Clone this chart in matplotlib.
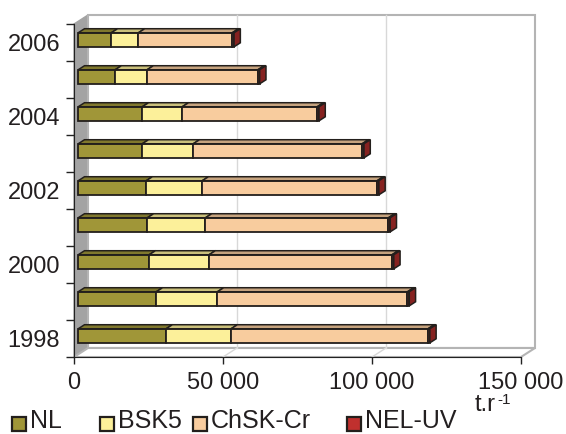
import numpy as np
import matplotlib
matplotlib.use('Agg')
import matplotlib.pyplot as plt
from matplotlib.patches import Polygon, Rectangle
from matplotlib.colors import to_rgb

# data (t per year)
years = [1998, 1999, 2000, 2001, 2002, 2003, 2004, 2005, 2006]
nl = [29500, 26200, 23800, 23200, 22800, 21500, 21500, 12400, 11100]
bsk5 = [21800, 20500, 20100, 19500, 18800, 17100, 13400, 10700, 9100]
chsk = [66100, 63800, 61400, 61400, 58700, 56700, 45300, 37200, 31500]
neluv = [600, 600, 600, 600, 600, 600, 600, 600, 600]
names = ['NL', 'BSK5', 'ChSK-Cr', 'NEL-UV']
colors = ['#A09638', '#FCF09A', '#F8CC9E', '#C0302E']
xticks = [0, 50000, 100000, 150000]
xticklabels = ['0', '50 000', '100 000', '150 000']

plt.rcParams['font.family'] = ['Liberation Sans', 'DejaVu Sans']
fs = 17

def darker(c, f):
    return tuple(v * f for v in to_rgb(c))

fig = plt.figure(figsize=(5.66, 4.34), dpi=100)
ax = fig.add_axes([74/566, 77/434, 447/566, 333/434])
xmax = 150000
n = len(years)
ax.set_xlim(0, xmax)
ax.set_ylim(-0.5, n - 0.5)
DX = 14/447*xmax   # depth shift in x
DY = 9/37          # depth shift in y
y0, y1 = -0.5, n - 0.5

# walls and floor
ax.add_patch(Polygon([(0, y0), (DX, y0+DY), (DX, y1+DY), (0, y1)], closed=True,
                     facecolor='#A3A3A3', edgecolor='#A3A3A3', lw=1, clip_on=False, zorder=0))
ax.add_patch(Polygon([(DX, y0+DY), (xmax+DX, y0+DY), (xmax+DX, y1+DY), (DX, y1+DY)], closed=True,
                     facecolor='white', edgecolor='#B4B4B4', lw=1.5, clip_on=False, zorder=0))
ax.add_patch(Polygon([(0, y0), (xmax, y0), (xmax+DX, y0+DY), (DX, y0+DY)], closed=True,
                     facecolor='white', edgecolor='#B4B4B4', lw=1.5, clip_on=False, zorder=0.5))
for xv in xticks[1:-1]:
    ax.plot([xv+DX, xv+DX], [y0+DY, y1+DY], color='#D8D8D8', lw=1, clip_on=False, zorder=1)
    ax.plot([xv, xv+DX], [y0, y0+DY], color='#D8D8D8', lw=1, clip_on=False, zorder=1)

# bars
data = np.array([nl, bsk5, chsk, neluv], dtype=float)
bx, by = 0.3*DX, 0.3*DY
h = 0.38
dd = 0.45
ypos = np.arange(n)
left = np.zeros(n)
ec = '#231F1C'
for k in range(len(names)):
    ax.barh(ypos + by, data[k], left=left + bx, height=h, color=colors[k],
            edgecolor=ec, linewidth=1.3, zorder=3)
    for i in ypos:
        xa = left[i] + bx
        xb = xa + data[k][i]
        yt = i + by + h/2
        ax.add_patch(Polygon([(xa, yt), (xb, yt), (xb+dd*DX, yt+dd*DY), (xa+dd*DX, yt+dd*DY)],
                             closed=True, facecolor=darker(colors[k], 0.8), edgecolor=ec,
                             lw=1.1, zorder=3, clip_on=False))
    left += data[k]
for i in ypos:
    xb = left[i] + bx
    yb = i + by - h/2
    yt = yb + h
    ax.add_patch(Polygon([(xb, yb), (xb+dd*DX, yb+dd*DY), (xb+dd*DX, yt+dd*DY), (xb, yt)],
                         closed=True, facecolor=darker(colors[3], 0.7), edgecolor=ec,
                         lw=1.1, zorder=3, clip_on=False))

# axes
for s in ['top', 'right']:
    ax.spines[s].set_visible(False)
ax.spines['left'].set_color('#222222')
ax.spines['bottom'].set_color('#222222')
ax.spines['left'].set_zorder(2)
ax.spines['bottom'].set_zorder(2)
ax.patch.set_alpha(0)
ax.set_xticks(xticks)
ax.set_xticklabels(xticklabels, fontsize=fs, color='#231F20')
ax.tick_params(axis='x', length=5, width=1, pad=6, color='#222222')
ax.set_yticks(np.arange(n + 1) - 0.5)
ax.set_yticklabels([])
ax.tick_params(axis='y', which='major', length=6, width=1, color='#222222')
ax.set_yticks(ypos[::2], minor=True)
ax.set_yticklabels([str(y) for y in years[::2]], minor=True, fontsize=fs, color='#231F20')
ax.tick_params(axis='y', which='minor', length=0, pad=10)

# legend
leg_x = [12, 100, 193, 347]
for k, name in enumerate(names):
    fig.add_artist(Rectangle((leg_x[k]/566, 1 - 431/434), 14/566, 14/434,
                             facecolor=colors[k], edgecolor=ec, lw=1.6,
                             transform=fig.transFigure))
    fig.text((leg_x[k] + 18)/566, 1 - 428/434, name, fontsize=18, va='baseline',
             ha='left', color='#231F20')
fig.text(475/566, 1 - 411/434, 't.r', fontsize=fs, va='baseline', ha='left',
         color='#231F20')
fig.text(497/566, 1 - 404/434, '-1', fontsize=11, va='baseline', ha='left',
         color='#231F20')

fig.savefig('out.png', dpi=100)
